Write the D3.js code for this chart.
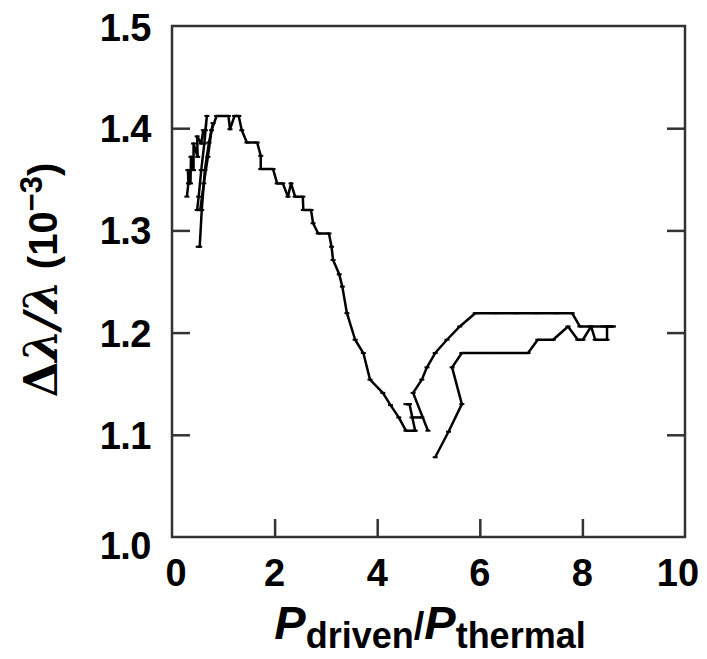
<!DOCTYPE html>
<html>
<head>
<meta charset="utf-8">
<script src="https://cdn.jsdelivr.net/npm/d3@7"></script>
<style>
  body { margin: 0; background: #fff; }
  text { font-family: "Liberation Sans", Arial, sans-serif; font-weight: bold; fill: #000; }
</style>
</head>
<body>
<svg id="chart" width="707" height="659"></svg>
<script>
// tick values
var xTicks = [0, 2, 4, 6, 8, 10];
var yTicks = [1.0, 1.1, 1.2, 1.3, 1.4, 1.5];

// traces, [P ratio, dl/l (1e-3)]
var leftCluster = [[0.29,1.333],[0.32,1.346],[0.31,1.359],[0.36,1.346],[0.37,1.372],[0.42,1.359],
  [0.42,1.385],[0.50,1.372],[0.49,1.392],[0.57,1.385],[0.61,1.398],[0.65,1.398],[0.68,1.412],
  [0.63,1.385],[0.57,1.359],[0.52,1.333],[0.49,1.320],[0.55,1.320],[0.62,1.346],[0.70,1.372],
  [0.77,1.398],[0.87,1.412],[1.10,1.412],[1.13,1.399],[1.22,1.412],[1.30,1.412]];
var spike = [[0.51,1.284],[0.54,1.284],[0.58,1.320],[0.64,1.359],[0.72,1.386],[0.80,1.405]];
var mainBranch = [[1.30,1.412],[1.36,1.398],[1.46,1.386],[1.66,1.386],[1.73,1.373],[1.73,1.360],
  [1.97,1.360],[2.05,1.346],[2.16,1.346],[2.26,1.333],[2.32,1.346],[2.40,1.333],[2.55,1.333],
  [2.56,1.320],[2.71,1.320],[2.75,1.307],[2.85,1.297],[3.06,1.297],[3.11,1.284],[3.14,1.271],
  [3.26,1.257],[3.32,1.245],[3.41,1.219],[3.57,1.193],[3.73,1.180],[3.86,1.154],[4.11,1.141],
  [4.26,1.129],[4.42,1.117],[4.56,1.104],[4.73,1.104]];
var leftLeg = [[4.56,1.130],[4.63,1.130],[4.74,1.104]];
var crossBar = [[4.68,1.117],[4.87,1.117]];
var upperBranch = [[4.99,1.104],[4.70,1.141],[4.87,1.154],[4.97,1.166],[5.13,1.180],[5.36,1.193],
  [5.61,1.206],[5.91,1.219],[6.30,1.219],[6.70,1.219],[7.10,1.219],[7.50,1.219],[7.80,1.219],
  [7.95,1.206],[8.15,1.206],[8.40,1.206],[8.60,1.206]];
var lowerBranch = [[5.13,1.078],[5.39,1.103],[5.65,1.130],[5.46,1.166],[5.65,1.180],[6.20,1.180],
  [6.94,1.180],[7.13,1.193],[7.43,1.193],[7.72,1.206],[7.91,1.193],[8.01,1.193],[8.17,1.206],
  [8.25,1.193],[8.48,1.193],[8.48,1.206],[8.60,1.206]];

var traces = [leftCluster, spike, mainBranch, leftLeg, crossBar, upperBranch, lowerBranch];

var svg = d3.select("#chart");
var L = 172, R = 685, T = 26, B = 537;

var x = d3.scaleLinear().domain([0, 10]).range([L, R]);
var y = d3.scaleLinear().domain([1.0, 1.5]).range([B, T]);

// inward ticks
var tickLen = 18;
svg.append("g").attr("transform", "translate(" + L + ",0)")
  .call(d3.axisRight(y).tickValues(yTicks.slice(1, 5)).tickSize(tickLen).tickFormat(""))
  .call(function(g) { g.select(".domain").remove(); });
svg.append("g").attr("transform", "translate(" + R + ",0)")
  .call(d3.axisLeft(y).tickValues(yTicks.slice(1, 5)).tickSize(tickLen).tickFormat(""))
  .call(function(g) { g.select(".domain").remove(); });
svg.append("g").attr("transform", "translate(0," + B + ")")
  .call(d3.axisTop(x).tickValues(xTicks.slice(1, 5)).tickSize(tickLen).tickFormat(""))
  .call(function(g) { g.select(".domain").remove(); });
svg.selectAll(".tick line").attr("stroke", "#333").attr("stroke-width", 2.5);

svg.append("rect")
  .attr("x", L).attr("y", T).attr("width", R - L).attr("height", B - T)
  .attr("fill", "none").attr("stroke", "#333").attr("stroke-width", 2.5);

// tick labels
svg.selectAll(".ylab").data(yTicks).enter().append("text")
  .attr("class", "ylab")
  .attr("x", 151)
  .attr("y", function(d) { return y(d) + 14 + (d == 1.5 ? 1 : 0) + (d == 1.0 ? 8 : 0); })
  .attr("text-anchor", "end")
  .style("font-size", "38px")
  .style("letter-spacing", "-0.5px")
  .text(function(d) { return d.toFixed(1); });

svg.selectAll(".xlab").data(xTicks).enter().append("text")
  .attr("class", "xlab")
  .attr("x", function(d) { return x(d) + (d == 0 ? 4 : 0) + (d == 10 ? -7 : 0); })
  .attr("y", 586)
  .attr("text-anchor", "middle")
  .style("font-size", "38px")
  .text(function(d) { return d; });

// data
var line = d3.line().x(function(d) { return x(d[0]); }).y(function(d) { return y(d[1]); });
svg.append("g").selectAll("path").data(traces).enter().append("path")
  .attr("d", line)
  .attr("fill", "none")
  .attr("stroke", "#000")
  .attr("stroke-width", 2.5)
  .attr("stroke-linejoin", "round");

var pts = [];
traces.forEach(function(t) { t.forEach(function(p) { pts.push(p); }); });
svg.append("g").selectAll("line").data(pts).enter().append("line")
  .attr("x1", function(d) { return x(d[0]) - 2.5; })
  .attr("x2", function(d) { return x(d[0]) + 2.5; })
  .attr("y1", function(d) { return y(d[1]); })
  .attr("y2", function(d) { return y(d[1]); })
  .attr("stroke", "#000").attr("stroke-width", 2);

// axis titles
var xt = svg.append("text").attr("x", 430).attr("y", 639).attr("text-anchor", "middle")
  .style("font-size", "47px");
xt.append("tspan").style("font-style", "italic").text("P");
xt.append("tspan").attr("dy", 9).style("font-size", "36px").text("driven");
xt.append("tspan").attr("dy", -9).style("font-size", "38px").text("/");
xt.append("tspan").style("font-style", "italic").text("P");
xt.append("tspan").attr("dy", 9).style("font-size", "36px").text("thermal");

var yt = svg.append("text").attr("transform", "translate(57,280) rotate(-90)")
  .attr("text-anchor", "middle").style("font-size", "46px");
yt.append("tspan").style("font-family", "'DejaVu Serif', serif").text("\u0394");
yt.append("tspan").style("font-family", "'DejaVu Serif', serif").style("font-style", "italic").text("\u03bb/\u03bb");
yt.append("tspan").style("font-size", "40px").text(" (10");
yt.append("tspan").attr("dy", -15).style("font-size", "31px").text("\u22123");
yt.append("tspan").attr("dy", 15).style("font-size", "40px").text(")");
</script>
</body>
</html>
